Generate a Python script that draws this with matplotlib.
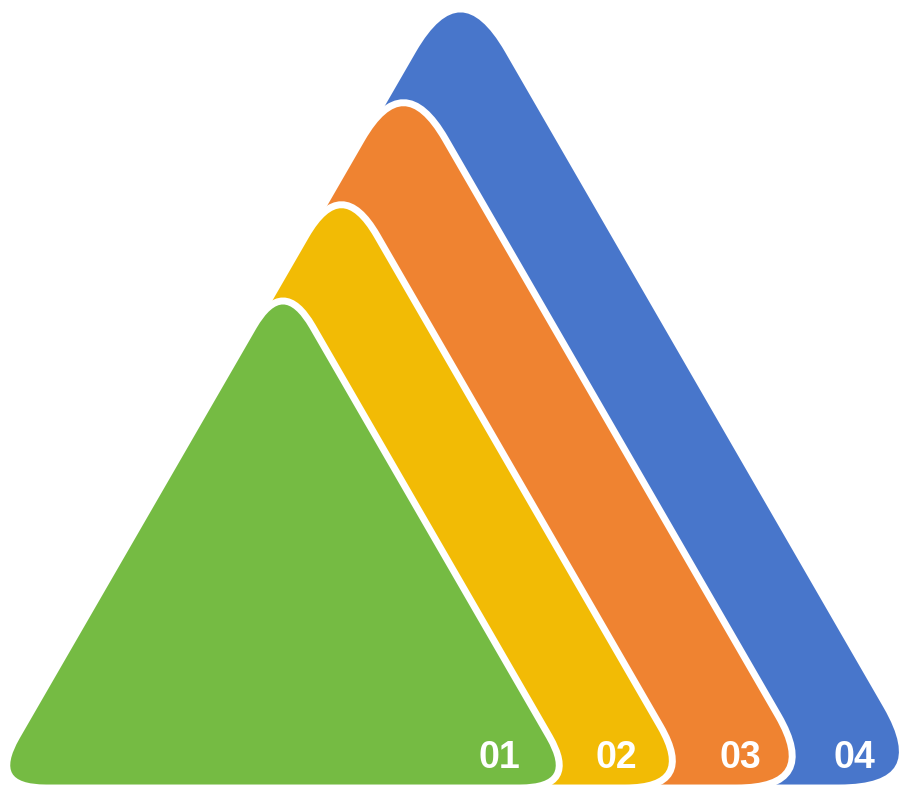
import matplotlib
matplotlib.use("Agg")
from matplotlib import pyplot as plt
from matplotlib.path import Path
from matplotlib.patches import PathPatch
import numpy as np

labels = ["01", "02", "03", "04"]
colors = ["#75BB43", "#F2BB05", "#EF8331", "#4876CB"]
sides = [592, 709, 833, 947]

x0, base = -13, 788  # shared bottom-left corner (pixel coords)
round_frac = 0.10


def rounded_triangle(side):
	h = side * np.sqrt(3) / 2
	verts = np.array([(x0, base), (x0 + side / 2, base - h), (x0 + side, base)])
	d = round_frac * side
	pts, codes = [], []
	n = len(verts)
	for i in range(n):
		v = verts[i]
		prev_v, next_v = verts[i - 1], verts[(i + 1) % n]
		p_in = v + d * (prev_v - v) / np.linalg.norm(prev_v - v)
		p_out = v + d * (next_v - v) / np.linalg.norm(next_v - v)
		if i == 0:
			pts.append(p_out); codes.append(Path.MOVETO)
			first_in = p_in
			continue
		pts += [p_in, v, p_out]
		codes += [Path.LINETO, Path.CURVE3, Path.CURVE3]
	pts += [first_in, verts[0], pts[0], pts[0]]
	codes += [Path.LINETO, Path.CURVE3, Path.CURVE3, Path.CLOSEPOLY]
	return Path(pts, codes)


fig = plt.figure(figsize=(9.02, 7.86), dpi=100)
ax = fig.add_axes([0, 0, 1, 1])
ax.set_xlim(0, 902)
ax.set_ylim(786, 0)
ax.axis("off")

for i in range(len(sides) - 1, -1, -1):
	patch = PathPatch(rounded_triangle(sides[i]), facecolor=colors[i], edgecolor="white",
					  lw=5, joinstyle="round", zorder=10 - i)
	ax.add_patch(patch)
	lx = x0 + sides[i] - 80
	ax.text(lx, 758, labels[i], color="white", fontsize=27, fontweight="bold",
			family="Liberation Sans", ha="center", va="center", zorder=20)

fig.savefig("out.png", dpi=100)
